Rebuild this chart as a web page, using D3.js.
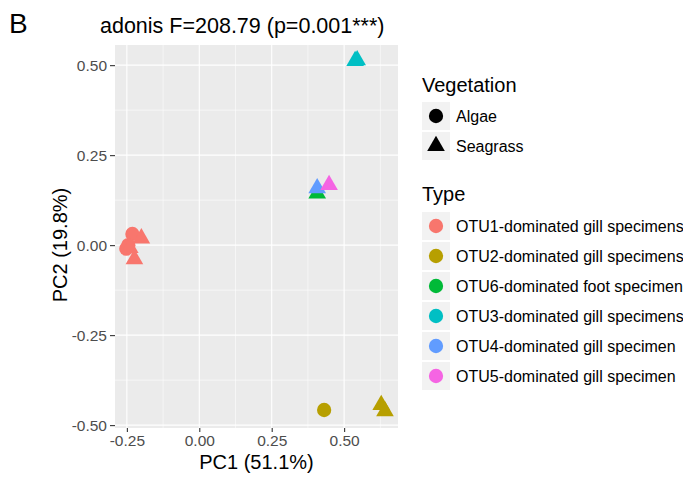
<!DOCTYPE html>
<html>
<head>
<meta charset="utf-8">
<script src="https://cdn.jsdelivr.net/npm/d3@7"></script>
<style>
  body { margin: 0; background: #fff; }
  text { font-family: "Liberation Sans", Arial, sans-serif; }
</style>
</head>
<body>
<div id="chart"></div>
<script>
// Datos
const tipos = [
  "OTU1-dominated gill specimens",
  "OTU2-dominated gill specimens",
  "OTU6-dominated foot specimen",
  "OTU3-dominated gill specimens",
  "OTU4-dominated gill specimen",
  "OTU5-dominated gill specimen"
];
const colores = ["#F8766D", "#B79F00", "#00BA38", "#00BFC4", "#619CFF", "#F564E3"];
const vegetacion = ["Algae", "Seagrass"];

// muestras: PC1, PC2, tipo, vegetacion
const pc1 = [-0.231, -0.245, -0.252, -0.200, -0.224, -0.240, 0.431, 0.628, 0.641, 0.407, 0.538, 0.545, 0.407, 0.448];
const pc2 = [0.031, 0.000, -0.010, 0.019, -0.039, -0.008, -0.458, -0.444, -0.461, 0.144, 0.512, 0.514, 0.158, 0.167];
const tipo = [0, 0, 0, 0, 0, 0, 1, 1, 1, 2, 3, 3, 4, 5];
const veg = [0, 0, 0, 1, 1, 1, 0, 1, 1, 1, 1, 1, 1, 1];

const xTicks = [-0.25, 0, 0.25, 0.5];
const yTicks = [-0.5, -0.25, 0, 0.25, 0.5];

const width = 683, height = 477;
const panel = { left: 115, right: 398, top: 45, bottom: 428 };

const svg = d3.select("#chart").append("svg")
  .attr("width", width).attr("height", height);

const x = d3.scaleLinear().domain([-0.291, 0.686]).range([panel.left, panel.right]);
const y = d3.scaleLinear().domain([-0.508, 0.556]).range([panel.bottom, panel.top]);

// fondo del panel
svg.append("rect")
  .attr("x", panel.left).attr("y", panel.top)
  .attr("width", panel.right - panel.left).attr("height", panel.bottom - panel.top)
  .attr("fill", "#EBEBEB");

// rejilla menor
const xMinor = [-0.125, 0.125, 0.375, 0.625];
const yMinor = [-0.375, -0.125, 0.125, 0.375];
svg.append("g").selectAll("line").data(xMinor).join("line")
  .attr("x1", d => x(d)).attr("x2", d => x(d))
  .attr("y1", panel.top).attr("y2", panel.bottom)
  .attr("stroke", "#fff").attr("stroke-width", 0.55);
svg.append("g").selectAll("line").data(yMinor).join("line")
  .attr("y1", d => y(d)).attr("y2", d => y(d))
  .attr("x1", panel.left).attr("x2", panel.right)
  .attr("stroke", "#fff").attr("stroke-width", 0.55);

// rejilla mayor
svg.append("g").selectAll("line").data(xTicks).join("line")
  .attr("x1", d => x(d)).attr("x2", d => x(d))
  .attr("y1", panel.top).attr("y2", panel.bottom)
  .attr("stroke", "#fff").attr("stroke-width", 1.1);
svg.append("g").selectAll("line").data(yTicks).join("line")
  .attr("y1", d => y(d)).attr("y2", d => y(d))
  .attr("x1", panel.left).attr("x2", panel.right)
  .attr("stroke", "#fff").attr("stroke-width", 1.1);

// ejes (guion normal como en ggplot)
const fmt = d => d3.format(".2f")(d).replace("\u2212", "-");
const xAxis = svg.append("g")
  .attr("transform", `translate(0,${panel.bottom})`)
  .call(d3.axisBottom(x).tickValues(xTicks).tickFormat(fmt).tickSize(4).tickPadding(3));
const yAxis = svg.append("g")
  .attr("transform", `translate(${panel.left},0)`)
  .call(d3.axisLeft(y).tickValues(yTicks).tickFormat(fmt).tickSize(5).tickPadding(3));
[xAxis, yAxis].forEach(a => {
  a.select(".domain").remove();
  a.selectAll(".tick line").attr("stroke", "#333").attr("stroke-width", 1.1);
  a.selectAll(".tick text").attr("fill", "#4D4D4D")
    .style("font-size", "15.5px").style("font-family", "Liberation Sans, Arial, sans-serif");
});

// puntos
const circulo = d3.symbol().type(d3.symbolCircle).size(160);
const triangulo = d3.symbol().type(d3.symbolTriangle).size(135);
const idx = d3.range(pc1.length);
svg.append("g").selectAll("path").data(idx).join("path")
  .attr("d", i => veg[i] === 0 ? circulo() : triangulo())
  .attr("transform", i => `translate(${x(pc1[i])},${y(pc2[i])})`)
  .attr("fill", i => colores[tipo[i]]);

// títulos
svg.append("text").attr("x", 9).attr("y", 33)
  .style("font-size", "28px").attr("fill", "#000").text("B");
svg.append("text").attr("x", 100).attr("y", 33)
  .style("font-size", "21.5px").attr("fill", "#000").text("adonis F=208.79 (p=0.001***)");
svg.append("text").attr("x", (panel.left + panel.right) / 2).attr("y", 469)
  .attr("text-anchor", "middle").style("font-size", "20px").text("PC1 (51.1%)");
svg.append("text")
  .attr("transform", `translate(67,245) rotate(-90)`)
  .attr("text-anchor", "middle").style("font-size", "20px").text("PC2 (19.8%)");

// leyendas
const leg = svg.append("g").attr("transform", "translate(422,0)");
leg.append("text").attr("x", 0).attr("y", 92).style("font-size", "20px").text("Vegetation");
const vegG = leg.selectAll("g.veg").data(vegetacion).join("g")
  .attr("transform", (d, i) => `translate(0,${102 + i * 30})`);
vegG.append("rect").attr("width", 28).attr("height", 28).attr("fill", "#F2F2F2");
vegG.append("path")
  .attr("d", (d, i) => i === 0 ? circulo() : triangulo())
  .attr("transform", "translate(14,14)").attr("fill", "#000");
vegG.append("text").attr("x", 34).attr("y", 20).style("font-size", "16px").text(d => d);

leg.append("text").attr("x", 0).attr("y", 201).style("font-size", "20px").text("Type");
const tipoG = leg.selectAll("g.tipo").data(tipos).join("g")
  .attr("transform", (d, i) => `translate(0,${212 + i * 30})`);
tipoG.append("rect").attr("width", 28).attr("height", 28).attr("fill", "#F2F2F2");
tipoG.append("path").attr("d", circulo())
  .attr("transform", "translate(14,14)").attr("fill", (d, i) => colores[i]);
tipoG.append("text").attr("x", 34).attr("y", 20).style("font-size", "16px").text(d => d);
</script>
</body>
</html>
